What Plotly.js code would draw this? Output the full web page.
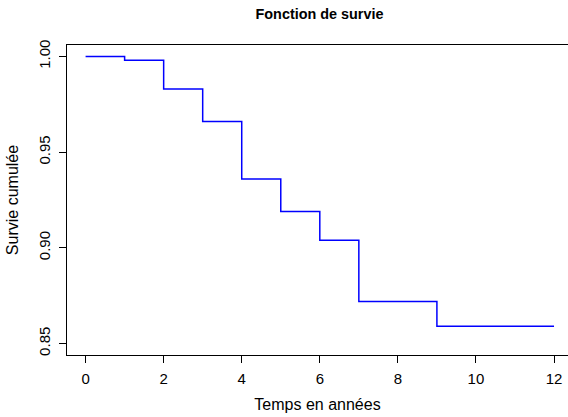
<!DOCTYPE html>
<html>
<head>
<meta charset="utf-8">
<script src="https://cdn.plot.ly/plotly-3.0.1.min.js"></script>
<style>html,body{margin:0;padding:0;background:#fff;}#chart{width:568px;height:417px;}</style>
</head>
<body>
<div id="chart"></div>
<script>
var times = [0, 1, 2, 3, 4, 5, 6, 7, 9, 12];
var survival = [1.000, 0.998, 0.983, 0.966, 0.936, 0.919, 0.904, 0.872, 0.859, 0.859];
var xTicks = [0, 2, 4, 6, 8, 10, 12];
var yTicks = [0.85, 0.90, 0.95, 1.00];

var trace = {
  x: times, y: survival, type: 'scatter', mode: 'lines',
  line: {shape: 'hv', color: '#0000ff', width: 1.5},
  hoverinfo: 'skip'
};

var layout = {
  width: 568, height: 417,
  margin: {l: 67, r: 0, t: 45, b: 62},
  paper_bgcolor: '#fff', plot_bgcolor: '#fff',
  font: {family: 'Liberation Sans, Arial, sans-serif', size: 16, color: '#000'},
  showlegend: false,
  title: {text: '<b>Fonction de survie</b>', font: {size: 14.4, color: '#000'},
          x: 0.504, xref: 'paper', xanchor: 'center', y: 1 - 14/417, yref: 'container', yanchor: 'middle'},
  xaxis: {
    range: [-0.476, 12.358], tickvals: xTicks, ticktext: xTicks.map(String),
    tickfont: {size: 15},
    showgrid: false, zeroline: false, showline: true, linecolor: '#000', linewidth: 1,
    mirror: true, ticks: 'outside', ticklen: 7, tickcolor: '#000', tickwidth: 1,
    ticklabelstandoff: 3,
    title: {text: 'Temps en années', font: {size: 16}, standoff: 12}
  },
  yaxis: {
    range: [0.844, 1.006], tickvals: yTicks, ticktext: yTicks.map(function(v){return v.toFixed(2);}),
    tickangle: -90, tickfont: {size: 15},
    showgrid: false, zeroline: false, showline: true, linecolor: '#000', linewidth: 1,
    ticks: 'outside', ticklen: 7, tickcolor: '#000', tickwidth: 1,
    ticklabelstandoff: 3,
    title: {text: 'Survie cumulée', font: {size: 16}, standoff: 13}
  }
};

Plotly.newPlot('chart', [trace], layout, {staticPlot: true, displayModeBar: false});
</script>
</body>
</html>
